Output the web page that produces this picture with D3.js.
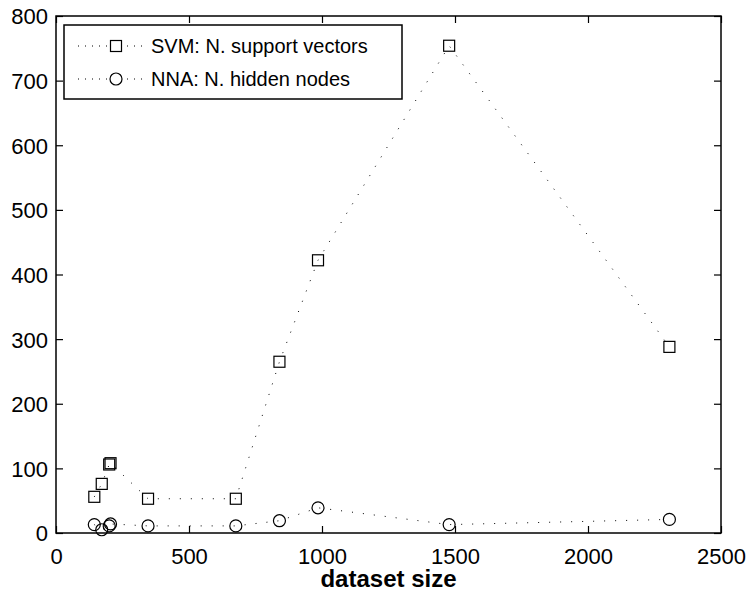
<!DOCTYPE html>
<html>
<head>
<meta charset="utf-8">
<script src="https://cdn.jsdelivr.net/npm/d3@7"></script>
<style>
  body { margin: 0; background: #fff; }
  svg { display: block; font-family: 'Liberation Sans', Arial, Helvetica, sans-serif; }
</style>
</head>
<body>
<svg id="chart" width="753" height="599"></svg>
<script>
/**
 * @fileoverview Draws support vectors / hidden nodes against dataset size.
 */

// Dataset sizes, shared by both series.
var datasetSizes = [144, 172, 200, 205, 346, 676, 840, 985, 1478, 2306];

// SVM: number of support vectors.
var svmValues = [56, 76, 106, 108, 53, 53, 265, 422, 754, 288];

// NNA: number of hidden nodes.
var nnaValues = [13, 5, 11, 14, 11, 11, 19, 39, 13, 21];

var xTicks = [0, 500, 1000, 1500, 2000, 2500];
var yTicks = [0, 100, 200, 300, 400, 500, 600, 700, 800];

var seriesNames = ['SVM: N. support vectors', 'NNA: N. hidden nodes'];
var xLabel = 'dataset size';


var margin = {left: 56, right: 32, top: 16, bottom: 66};
var width = 753 - margin.left - margin.right;
var height = 599 - margin.top - margin.bottom;
var tickLen = 7;

var svg = d3.select('#chart');
var plot = svg.append('g').
    attr('transform', 'translate(' + margin.left + ',' + margin.top + ')');

var x = d3.scaleLinear().domain([0, 2500]).range([0, width]);
var y = d3.scaleLinear().domain([0, 800]).range([height, 0]);
var fmt = d3.format('d');

/**
 * Draws an axis with inward ticks, MATLAB style.
 * @param {Function} axisFn d3 axis generator.
 * @param {string} transform Group transform.
 * @param {boolean} showLabels Whether to keep the tick labels.
 */
function drawAxis(axisFn, transform, showLabels) {
  var g = plot.append('g').attr('transform', transform).call(axisFn);
  g.select('.domain').remove();
  g.selectAll('.tick line').attr('stroke', '#000').attr('stroke-width', 1.2);
  if (showLabels) {
    g.selectAll('.tick text').
        attr('fill', '#000').
        style('font-size', '22px');
  } else {
    g.selectAll('.tick text').remove();
  }
  return g;
}

// Bottom and left axes carry labels; top and right only ticks.
var xBottom = drawAxis(d3.axisBottom(x).tickValues(xTicks).tickFormat(fmt).
    tickSize(-tickLen).tickPadding(tickLen + 7),
    'translate(0,' + height + ')', true);
xBottom.selectAll('.tick text').attr('dy', '0.78em');
drawAxis(d3.axisTop(x).tickValues(xTicks).tickSize(-tickLen),
    'translate(0,0)', false);
var yLeft = drawAxis(d3.axisLeft(y).tickValues(yTicks).tickFormat(fmt).
    tickSize(-tickLen).tickPadding(tickLen + 1),
    'translate(0,0)', true);
yLeft.selectAll('.tick text').attr('dy', '0.36em');
drawAxis(d3.axisRight(y).tickValues(yTicks).tickSize(-tickLen),
    'translate(' + width + ',0)', false);

// Axes box.
plot.append('rect').
    attr('width', width).
    attr('height', height).
    attr('fill', 'none').
    attr('stroke', '#000').
    attr('stroke-width', 1.5);

var series = [
  {name: seriesNames[0], values: svmValues, marker: 'square'},
  {name: seriesNames[1], values: nnaValues, marker: 'circle'}
];

var line = d3.line().
    x(function(d) { return x(d[0]); }).
    y(function(d) { return y(d[1]); });

/**
 * Appends one marker at the given position.
 * @param {d3.Selection} g Parent group.
 * @param {string} kind 'square' or 'circle'.
 * @param {number} cx Centre x.
 * @param {number} cy Centre y.
 */
function drawMarker(g, kind, cx, cy) {
  if (kind == 'square') {
    g.append('rect').
        attr('x', cx - 5.5).attr('y', cy - 5.5).
        attr('width', 11).attr('height', 11).
        attr('fill', 'none').attr('stroke', '#000').attr('stroke-width', 1.2);
  } else {
    g.append('circle').
        attr('cx', cx).attr('cy', cy).attr('r', 6).
        attr('fill', 'none').attr('stroke', '#000').attr('stroke-width', 1.2);
  }
}

series.forEach(function(s) {
  var pts = d3.zip(datasetSizes, s.values);
  plot.append('path').
      datum(pts).
      attr('d', line).
      attr('fill', 'none').
      attr('stroke', '#000').
      attr('stroke-width', 1).
      attr('stroke-dasharray', '1,10');
  var mg = plot.append('g');
  pts.forEach(function(p) {
    drawMarker(mg, s.marker, x(p[0]), y(p[1]));
  });
});

// Legend.
var legend = svg.append('g').attr('transform', 'translate(64,25)');
legend.append('rect').
    attr('width', 338).
    attr('height', 74).
    attr('fill', '#fff').
    attr('stroke', '#000').
    attr('stroke-width', 1.5);
series.forEach(function(s, i) {
  var ly = 21 + i * 33;
  legend.append('line').
      attr('x1', 14).attr('x2', 82).
      attr('y1', ly).attr('y2', ly).
      attr('stroke', '#000').
      attr('stroke-dasharray', '1,6');
  var mg = legend.append('g');
  drawMarker(mg, s.marker, 52, ly);
  mg.selectAll('rect,circle').attr('fill', '#fff');
  legend.append('text').
      attr('x', 87).
      attr('y', ly).
      attr('dy', '0.36em').
      style('font-size', '20px').
      text(s.name);
});

// X axis title.
svg.append('text').
    attr('x', margin.left + width / 2).
    attr('y', 587).
    attr('text-anchor', 'middle').
    style('font-size', '24px').
    style('font-weight', 'bold').
    text(xLabel);
</script>
</body>
</html>
